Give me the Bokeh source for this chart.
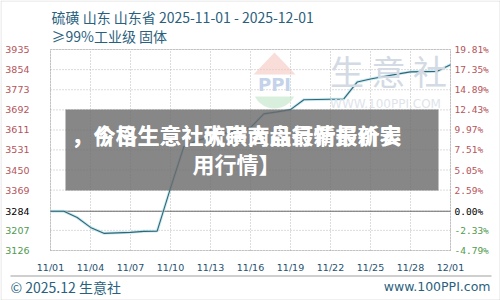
import numpy as np
import pandas as pd
from bokeh.plotting import figure
from bokeh.core.properties import value
from bokeh.models import (Label, BoxAnnotation, PolyAnnotation, Range1d, ColumnDataSource)
from bokeh.embed import file_html
from bokeh.resources import INLINE

# ---------------- data ----------------
title_line1 = "硫磺 山东 山东省 2025-11-01 - 2025-12-01"
title_line2 = "≥99%工业级 固体"
dates = pd.date_range("2025-11-01", "2025-12-01", freq="D")
prices = [3284, 3284, 3259, 3219, 3195, 3197, 3199, 3203, 3204, 3377,
          3544, 3569, 3583, 3597, 3609, 3621, 3676, 3684, 3693, 3733,
          3734, 3735, 3736, 3804, 3816, 3826, 3836, 3845, 3846, 3847, 3874]
base_price = 3284
y_ticks = [3126, 3207, 3284, 3369, 3450, 3531, 3611, 3692, 3773, 3854, 3935]
y_labels = ["3126", "3207", "3284", "3369", "3450", "3531", "3611", "3692", "3773", "3854", "3935"]
pct_labels = ["-4.79%", "-2.33%", "0.00%", "2.59%", "5.05%", "7.51%", "9.97%",
              "12.43%", "14.89%", "17.35%", "19.81%"]
x_tick_dates = ["2025-11-01", "2025-11-04", "2025-11-07", "2025-11-10", "2025-11-13",
                "2025-11-16", "2025-11-19", "2025-11-22", "2025-11-25", "2025-11-28",
                "2025-12-01"]
x_tick_labels = ["11/01", "11/04", "11/07", "11/10", "11/13", "11/16", "11/19",
                 "11/22", "11/25", "11/28", "12/01"]
footer_left = "© 2025.12 生意社"
footer_right = "www.100PPI.com"
overlay_a = "，今日生意社大宗商品最新报价表"
overlay_b1 = "，价格生意社硫磺大盘行情最新实"
overlay_b2 = "用行情】"

# ---------------- layout ----------------
W, H = 500, 300
FL, FR, FT, FB = 50, 450, 49, 250  # plot-area edges in canvas px

RED = "#b5545a"
GREEN = "#4f9a4f"
TEAL = "#2b5f7e"

def ms(d):
    return pd.Timestamp(d).value / 1e6

x0, x1 = ms(dates[0]), ms(dates[-1])
kx = (x1 - x0) / (FR - FL)
y0, y1 = y_ticks[0], y_ticks[-1]
ky = (y1 - y0) / (FB - FT)

p = figure(width=W, height=H, output_backend="svg", toolbar_location=None,
           x_axis_location=None, y_axis_location=None,
           x_range=Range1d(x0 - FL * kx, x1 + (W - FR) * kx),
           y_range=Range1d(y0 - (H - FB) * ky, y1 + FT * ky),
           min_border=0, background_fill_color="white", border_fill_color="white")
p.title.visible = False
p.grid.visible = False
p.outline_line_color = None

def sx(px):
    return px

def sy(py):
    return H - py

xt = [pd.Timestamp(d) for d in x_tick_dates]

# grid (dotted)
p.segment(x0=xt, x1=xt, y0=[y0] * len(xt), y1=[y1] * len(xt),
          line_color="#b8b8b8", line_dash="1 2", line_width=1)
p.segment(x0=[dates[0]] * len(y_ticks), x1=[dates[-1]] * len(y_ticks), y0=y_ticks, y1=y_ticks,
          line_color="#b8b8b8", line_dash="1 2", line_width=1)

# watermark logo
cx, cy, r = 274, 86, 22
ang = np.linspace(0.15 * np.pi, 0.85 * np.pi, 30)
p.add_layout(PolyAnnotation(xs=[sx(cx - 21), sx(cx), sx(cx + 21)],
                            ys=[sy(74), sy(52), sy(74)], xs_units="screen", ys_units="screen",
                            fill_color="#f4c6bf", fill_alpha=0.6, line_alpha=0))
p.add_layout(PolyAnnotation(xs=[sx(cx + r * np.cos(a)) for a in ang],
                            ys=[sy(cy + r * np.sin(a)) for a in ang],
                            xs_units="screen", ys_units="screen",
                            fill_color="#c9e8cf", fill_alpha=0.7, line_alpha=0))
p.add_layout(Label(x=sx(cx), y=sy(84), x_units="screen", y_units="screen", text="PPI",
                   text_align="center", text_baseline="middle", text_color="#c4d3ea",
                   text_font="DejaVu Sans", text_font_style="bold", text_font_size="18px"))
p.add_layout(Label(x=sx(388), y=sy(70), x_units="screen", y_units="screen", text="生 意 社",
                   text_align="center", text_baseline="middle", text_color="#d3dae4",
                   text_font="Noto Sans CJK SC", text_font_size="34px"))
p.add_layout(Label(x=sx(385), y=sy(103), x_units="screen", y_units="screen", text="WWW.100PPI.COM",
                   text_align="center", text_baseline="middle", text_color="#e0e4ea",
                   text_font="DejaVu Sans", text_font_size="12px"))

# plot-area frame and baseline
p.add_layout(BoxAnnotation(left=x0, right=x1, bottom=y0, top=y1, fill_alpha=0,
                           line_color="#8c8c8c", line_width=1))
p.segment(x0=[dates[0]], x1=[dates[-1]], y0=[base_price], y1=[base_price],
          line_color="#6a6a6a", line_width=1)

# price line
src = ColumnDataSource(dict(date=dates, price=prices))
p.line("date", "price", source=src, line_color="#a9dcea", line_width=3, line_alpha=0.6)
p.line("date", "price", source=src, line_color="#2f6776", line_width=1.1)

# tick labels
colors = ["black" if t == base_price else (RED if t > base_price else GREEN) for t in y_ticks]
p.text(x=[dates[0]] * len(y_ticks), y=y_ticks, text=y_labels, text_color=colors,
       x_offset=-21, text_align="right", text_baseline="middle",
       text_font=value("DejaVu Sans"), text_font_size="9.5px")
p.text(x=[dates[-1]] * len(y_ticks), y=y_ticks, text=pct_labels, text_color=colors,
       x_offset=4, text_align="left", text_baseline="middle",
       text_font=value("DejaVu Sans Mono"), text_font_size="9.5px")
p.text(x=xt, y=[y0] * len(xt), text=x_tick_labels, y_offset=17,
       text_align="center", text_baseline="middle", text_color="#1f4f6e",
       text_font=value("DejaVu Sans"), text_font_size="9.5px")

# grey overlay box with garbled text
p.add_layout(BoxAnnotation(left=sx(65), right=sx(438), top=sy(109), bottom=sy(190),
                           left_units="screen", right_units="screen",
                           top_units="screen", bottom_units="screen",
                           fill_color="#6c6c6c", fill_alpha=0.82, line_alpha=0))
for txt, yy in ((overlay_a, 133), (overlay_b1, 133), (overlay_b2, 162)):
    p.add_layout(Label(x=sx(236), y=sy(yy), x_units="screen", y_units="screen", text=txt,
                       text_align="center", text_baseline="middle", text_color="white",
                       text_font="Noto Sans CJK SC", text_font_style="bold", text_font_size="22px"))

# title
p.add_layout(Label(x=sx(51), y=sy(16), x_units="screen", y_units="screen", text=title_line1,
                   text_align="left", text_baseline="middle", text_color=TEAL,
                   text_font="Noto Sans CJK SC", text_font_size="14px"))
p.add_layout(Label(x=sx(51), y=sy(35), x_units="screen", y_units="screen", text=title_line2,
                   text_align="left", text_baseline="middle", text_color=TEAL,
                   text_font="Noto Sans CJK SC", text_font_size="14px"))

# footer
p.add_layout(BoxAnnotation(left=sx(10), right=sx(491), top=sy(275), bottom=sy(276),
                           left_units="screen", right_units="screen",
                           top_units="screen", bottom_units="screen",
                           fill_color="#a0a0a0", fill_alpha=1, line_alpha=0))
p.add_layout(Label(x=sx(10), y=sy(286), x_units="screen", y_units="screen", text=footer_left,
                   text_align="left", text_baseline="middle", text_color=TEAL,
                   text_font="Noto Sans CJK SC", text_font_size="14px"))
p.add_layout(Label(x=sx(490), y=sy(286), x_units="screen", y_units="screen", text=footer_right,
                   text_align="right", text_baseline="middle", text_color=TEAL,
                   text_font="DejaVu Sans", text_font_size="12.5px"))

# outer border
p.add_layout(BoxAnnotation(left=sx(0.5), right=sx(499.5), top=sy(0.5), bottom=sy(299.5),
                           left_units="screen", right_units="screen",
                           top_units="screen", bottom_units="screen",
                           fill_alpha=0, line_color="#9a9a9a", line_width=1))

open("out.html", "w").write(file_html(p, INLINE))
